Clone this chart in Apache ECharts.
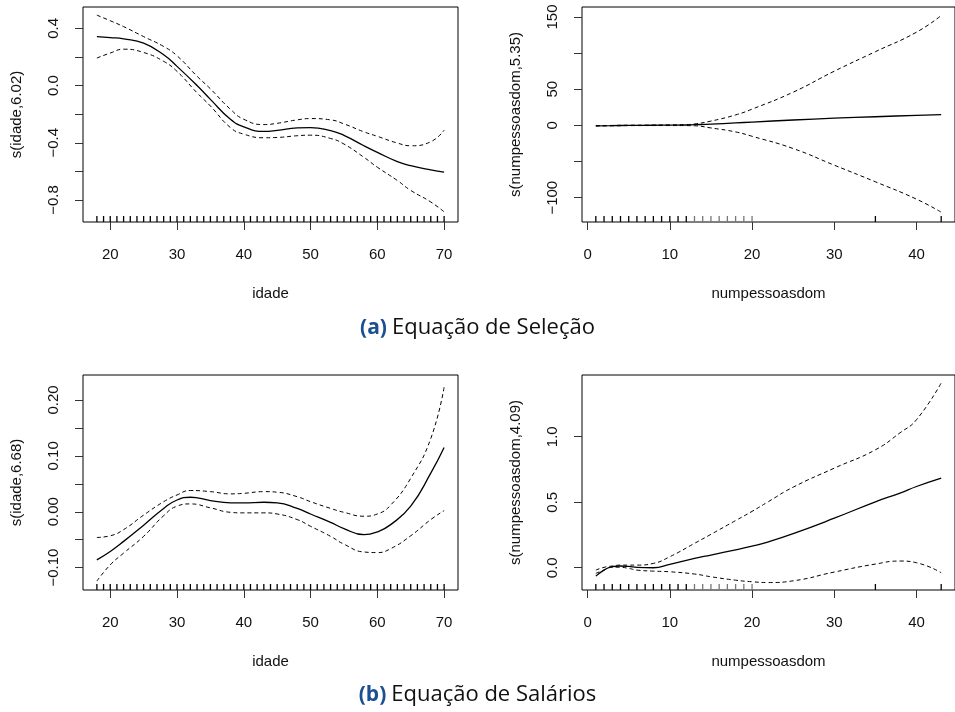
<!DOCTYPE html>
<html>
<head>
<meta charset="utf-8">
<script src="https://cdn.jsdelivr.net/npm/echarts@6/dist/echarts.min.js"></script>
<style>
  html, body { margin: 0; padding: 0; background: #fff; }
  #chart { width: 955px; height: 712px; }
</style>
</head>
<body>
<div id="chart"></div>
<script>
// idade (age) – equação de seleção
const idadeA = [18,20,22,25,28,30,33,35,38,40,43,45,48,50,53,55,58,60,63,65,68,70]
const fitA = [0.342,0.335,0.326,0.296,0.215,0.134,0.0,-0.097,-0.236,-0.289,-0.321,-0.314,-0.296,-0.294,-0.315,-0.348,-0.421,-0.467,-0.532,-0.56,-0.59,-0.606]
const upA = [0.492,0.453,0.412,0.342,0.273,0.208,0.065,-0.023,-0.166,-0.236,-0.273,-0.264,-0.240,-0.231,-0.240,-0.268,-0.324,-0.355,-0.402,-0.421,-0.393,-0.312]
const loA = [0.192,0.227,0.254,0.231,0.169,0.099,-0.051,-0.143,-0.294,-0.34,-0.365,-0.363,-0.351,-0.347,-0.37,-0.409,-0.502,-0.571,-0.664,-0.733,-0.814,-0.883]

// numpessoasdom – equação de seleção
const numB = [1,3,5,8,10,12,13,15,18,20,25,30,35,40,43]
const fitB = [-0.5,-0.3,0,0.2,0.4,0.6,1,1.8,3.5,4.6,7.5,10,12,14,15]
const upB = [-0.3,0,0.3,0.5,0.8,1.2,2,6,14.5,22.5,46,75,102,129,152]
const loB = [-0.7,-0.6,-0.3,-0.2,-0.2,-0.3,-0.5,-3.5,-9,-15,-32,-55,-78,-102,-120]

// idade – equação de salários
const idadeC = [18,20,22,25,28,30,32,35,38,40,43,45,48,50,53,55,58,60,62,65,68,70]
const fitC = [-0.086,-0.071,-0.053,-0.024,0.006,0.021,0.026,0.020,0.016,0.016,0.017,0.016,0.006,-0.004,-0.019,-0.030,-0.041,-0.036,-0.023,0.010,0.069,0.115]
const upC = [-0.046,-0.043,-0.032,-0.006,0.018,0.030,0.038,0.036,0.032,0.033,0.036,0.035,0.027,0.018,0.006,-0.001,-0.008,-0.004,0.012,0.060,0.131,0.223]
const loC = [-0.124,-0.095,-0.074,-0.044,-0.007,0.010,0.014,0.007,-0.001,-0.002,-0.002,-0.004,-0.014,-0.026,-0.044,-0.058,-0.072,-0.073,-0.066,-0.043,-0.014,0.002]

// numpessoasdom – equação de salários
const numD = [1,2,3,4,5,6,8,10,13,15,18,20,22,25,30,35,38,40,43]
const fitD = [-0.064,-0.018,0.008,0.013,0.010,0.003,0.0,0.026,0.071,0.097,0.137,0.165,0.198,0.260,0.378,0.503,0.57,0.62,0.684]
const upD = [-0.018,0.003,0.013,0.02,0.02,0.02,0.033,0.084,0.186,0.255,0.36,0.43,0.505,0.615,0.76,0.9,1.03,1.13,1.41]
const loD = [-0.043,-0.018,0.003,0.003,-0.005,-0.018,-0.026,-0.031,-0.048,-0.069,-0.095,-0.107,-0.113,-0.1,-0.033,0.028,0.051,0.038,-0.038]

// rug (observed values)
const rugIdade = []
for (let a = 18; a <= 70; a++) rugIdade.push(a)
const rugNum = [1,2,3,4,5,6,7,8,9,10,11,12,35,43]
const rugNumLight = [13,14,15,16,17,18,19,20]

// ticks and labels
const ticksIdade = [20,30,40,50,60,70]
const ticksNum = [0,10,20,30,40]
const yTicksA = [-0.8,-0.6,-0.4,-0.2,0,0.2,0.4]
const yLabelsA = [-0.8,-0.4,0,0.4]
const yTicksB = [-100,-50,0,50,100,150]
const yLabelsB = [-100,0,50,150]
const yTicksC = [-0.1,-0.05,0,0.05,0.1,0.15,0.2]
const yLabelsC = [-0.1,0,0.1,0.2]
const yTicksD = [0,0.5,1]

const font = '"Liberation Sans", Arial, sans-serif'
const txt = '#111'

const chart = echarts.init(document.getElementById('chart'))

const panels = [
  {x: idadeA, fit: fitA, up: upA, lo: loA, rug: rugIdade, rugLight: [],
   xr: [15.92, 72.08], yr: [-0.954, 0.549], xt: ticksIdade, yt: yTicksA, yl: yLabelsA, dec: 1,
   xname: 'idade', yname: 's(idade,6.02)', left: 83, top: 7},
  {x: numB, fit: fitB, up: upB, lo: loB, rug: rugNum, rugLight: rugNumLight,
   xr: [-0.68, 44.68], yr: [-133.6, 163.8], xt: ticksNum, yt: yTicksB, yl: yLabelsB, dec: 0,
   xname: 'numpessoasdom', yname: 's(numpessoasdom,5.35)', left: 582, top: 7},
  {x: idadeC, fit: fitC, up: upC, lo: loC, rug: rugIdade, rugLight: [],
   xr: [15.92, 72.08], yr: [-0.14, 0.2447], xt: ticksIdade, yt: yTicksC, yl: yLabelsC, dec: 2,
   xname: 'idade', yname: 's(idade,6.68)', left: 83, top: 375},
  {x: numD, fit: fitD, up: upD, lo: loD, rug: rugNum, rugLight: rugNumLight,
   xr: [-0.68, 44.68], yr: [-0.17, 1.471], xt: ticksNum, yt: yTicksD, yl: yTicksD, dec: 1,
   xname: 'numpessoasdom', yname: 's(numpessoasdom,4.09)', left: 582, top: 375}
]

const grid = [], xAxis = [], yAxis = [], series = []

function fmt(v, dec) {
  return v.toFixed(dec).replace('-', '\u2212')
}

// short vertical marks standing on the bottom of the box
function rugSeries(i, data, yMin, color) {
  return {
    type: 'custom', xAxisIndex: i, yAxisIndex: i, silent: true, clip: false,
    data: data.map(v => [v]),
    renderItem: (params, api) => {
      const p = api.coord([api.value(0), yMin])
      return {type: 'line', shape: {x1: p[0], y1: p[1], x2: p[0], y2: p[1] - 6},
        style: {stroke: color, lineWidth: 1.3}}
    }
  }
}

panels.forEach((p, i) => {
  grid.push({left: p.left, top: p.top, width: 375, height: 215, show: true,
    borderColor: '#000', borderWidth: 1, backgroundColor: 'transparent'})
  xAxis.push({
    type: 'value', gridIndex: i, min: p.xr[0], max: p.xr[1],
    name: p.xname, nameLocation: 'middle', nameGap: 64,
    nameTextStyle: {color: txt, fontSize: 15, fontFamily: font},
    axisLine: {show: false, onZero: false}, splitLine: {show: false},
    axisTick: {show: true, inside: false, length: 8, customValues: p.xt, lineStyle: {color: '#333'}},
    axisLabel: {customValues: p.xt, margin: 25, color: txt, fontSize: 15, fontFamily: font}
  })
  yAxis.push({
    type: 'value', gridIndex: i, min: p.yr[0], max: p.yr[1],
    name: p.yname, nameLocation: 'middle', nameGap: 59, nameRotate: 90,
    nameTextStyle: {color: txt, fontSize: 15, fontFamily: font},
    axisLine: {show: false, onZero: false}, splitLine: {show: false},
    axisTick: {show: true, inside: false, length: 8, customValues: p.yt, lineStyle: {color: '#333'}},
    axisLabel: {customValues: p.yl, rotate: 90, margin: 22, color: txt, fontSize: 15, fontFamily: font,
      formatter: v => fmt(v, p.dec)}
  })
  const pts = arr => p.x.map((x, k) => [x, arr[k]])
  series.push({type: 'line', xAxisIndex: i, yAxisIndex: i, data: pts(p.fit), showSymbol: false,
    smooth: 0.5, lineStyle: {color: '#000', width: 1.3}})
  series.push({type: 'line', xAxisIndex: i, yAxisIndex: i, data: pts(p.up), showSymbol: false,
    smooth: 0.5, lineStyle: {color: '#000', width: 1, type: [4, 3]}})
  series.push({type: 'line', xAxisIndex: i, yAxisIndex: i, data: pts(p.lo), showSymbol: false,
    smooth: 0.5, lineStyle: {color: '#000', width: 1, type: [4, 3]}})
  series.push(rugSeries(i, p.rug, p.yr[0], '#000'))
  if (p.rugLight.length) series.push(rugSeries(i, p.rugLight, p.yr[0], '#777'))
})

const capRich = {
  a: {color: '#1b4f8f', fontWeight: 'bold', fontSize: 21, fontFamily: '"Open Sans", sans-serif'},
  b: {color: '#111', fontWeight: 'normal', fontSize: 22, fontFamily: '"Open Sans", sans-serif'}
}

const option = {
  animation: false,
  title: [
    {text: '{a|(a)} {b|Equação de Seleção}', left: 'center', top: 312, textStyle: {rich: capRich}},
    {text: '{a|(b)} {b|Equação de Salários}', left: 'center', top: 679, textStyle: {rich: capRich}}
  ],
  grid, xAxis, yAxis, series
}
chart.setOption(option)
</script>
</body>
</html>
